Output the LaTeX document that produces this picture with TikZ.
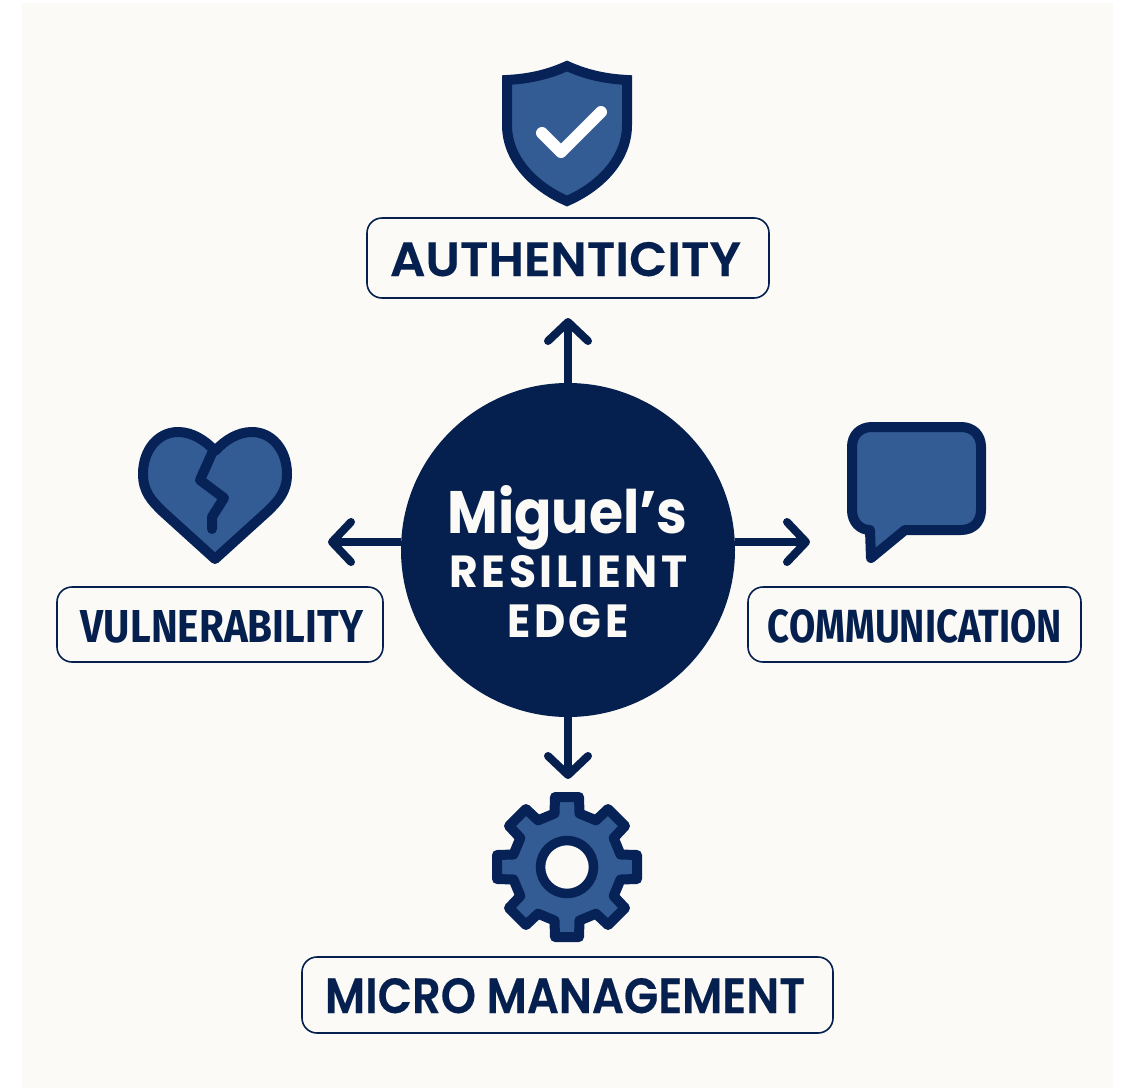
\documentclass[tikz,border=0pt]{standalone}
\usepackage{graphicx}
\usepackage{fontspec}
\setmainfont{Poppins}
\newfontfamily\popsb{Poppins}[UprightFont=* SemiBold,FakeBold=0.3]
\newfontfamily\firab{Fira Sans}[UprightFont=* Bold]
\usetikzlibrary{arrows.meta}
\definecolor{navy}{HTML}{05204E}
\definecolor{iconline}{HTML}{062256}
\definecolor{iconfill}{HTML}{335C94}
\definecolor{paper}{HTML}{FBFAF7}
\tikzset{
  labelbox/.style={draw=navy,line width=1.6pt,fill=paper,rounded corners=15pt,inner sep=0pt,text=navy,align=center},
  hubtext/.style={inner sep=0pt,text=paper,anchor=base},
  link/.style={draw=navy,line width=8pt,-{Straight Barb[length=19pt,width=40pt,line width=8pt,round]}},
  iconshape/.style={preaction={fill=iconfill},draw=iconline,line width=10pt,line join=round},
  crack/.style={draw=iconline,line width=10pt,line join=round,line cap=round}
}
\begin{document}
\begin{tikzpicture}[x=1pt,y=-1pt]
\useasboundingbox (0,0) rectangle (1122,1090);
\fill[white] (0,0) rectangle (1122,1090);
\fill[paper] (22,3) rectangle (1113,1088);

% connectors' free ends
\coordinate (tipA) at (568,318);
\coordinate (tipV) at (328,542);
\coordinate (tipC) at (810,542);
\coordinate (tipM) at (568,779);

% hub
\node[circle,fill=navy,minimum size=334pt,inner sep=0pt] (hub) at (568,550) {};
\node[hubtext] (hubA) at (567.5,533) {\resizebox{240pt}{48pt}{\bfseries Miguel’s}};
\node[hubtext] (hubB) at (568.5,587) {\resizebox{238pt}{32pt}{\bfseries\addfontfeature{LetterSpace=8}RESILIENT}};
\node[hubtext] (hubC) at (568,637) {\resizebox{121pt}{33pt}{\bfseries\addfontfeature{LetterSpace=8}EDGE}};

% connectors
\draw[link] (hub.north) -- (tipA);
\path (568,542) ++(-167,0) coordinate (hubL) (568,542) ++(167,0) coordinate (hubR);
\draw[link] (hubL) -- (tipV);
\draw[link] (hubR) -- (tipC);
\draw[link] (hub.south) -- (tipM);

% labels
\node[labelbox,minimum width=402pt,minimum height=80pt,text height=46pt,text depth=10pt] (auth) at (568,258)
  {\hspace*{-5pt}\resizebox{351pt}{34pt}{\popsb AUTHENTICITY}};
\node[labelbox,minimum width=326pt,minimum height=75pt,text height=45pt,text depth=10pt] (vuln) at (220,624.5)
  {\hspace*{4pt}\resizebox{282pt}{32pt}{\firab VULNERABILITY}};
\node[labelbox,minimum width=333pt,minimum height=75pt,text height=45pt,text depth=10pt] (comm) at (914.5,624.5)
  {\hspace*{1pt}\resizebox{294pt}{33pt}{\firab COMMUNICATION}};
\node[labelbox,minimum width=531pt,minimum height=76pt,text height=46pt,text depth=10pt] (micro) at (567.5,995)
  {\hspace*{-5pt}\resizebox{480pt}{35pt}{\popsb MICRO MANAGEMENT}};

% shield
\draw[iconshape,line join=miter] (567,66) .. controls (545,76) and (525,79) .. (507,80)
  -- (507,125) .. controls (507,160) and (535,187) .. (567,201)
  .. controls (599,187) and (627,160) .. (627,125)
  -- (627,80) .. controls (609,79) and (589,76) .. (567,66) -- cycle;
\draw[white,line width=12pt,line cap=round,line join=round] (542,133) -- (561,152) -- (601,112);

% heart
\draw[iconshape] (215,451) .. controls (205,440) and (192,432) .. (178,432)
  .. controls (158,432) and (143,450) .. (143,474)
  .. controls (143,492) and (152,501) .. (162,511) -- (215,559) -- (268,511)
  .. controls (278,501) and (287,492) .. (287,474)
  .. controls (287,450) and (272,432) .. (252,432)
  .. controls (238,432) and (225,440) .. (215,451) -- cycle;
\draw[crack] (213,451) -- (200,480) -- (224,498) -- (212,517) -- (212,529);

% speech bubble
\draw[iconshape] (905,530) -- (961,530) .. controls (973,530) and (981,522) .. (981,510)
  -- (981,447) .. controls (981,435) and (973,427) .. (961,427)
  -- (872,427) .. controls (860,427) and (852,435) .. (852,447)
  -- (852,510) .. controls (852,522) and (860,530) .. (870,530)
  -- (871,558) -- cycle;

% gear
\begin{scope}[shift={(567,867)}]
\draw[iconshape]
  (-12.5,-53.5) \foreach \a in {0,-45,...,-315} { -- ([rotate=\a]-12.5,-53.5) -- ([rotate=\a]-12,-70) -- ([rotate=\a]12,-70) -- ([rotate=\a]12.5,-53.5) } -- cycle;
\draw[draw=iconline,fill=paper,line width=9.5pt] (0,0) circle[radius=26.5pt];
\end{scope}
\end{tikzpicture}
\end{document}
